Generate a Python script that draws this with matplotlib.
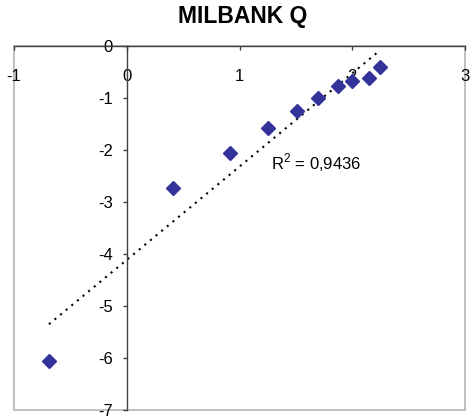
import numpy as np
import matplotlib
matplotlib.use("Agg")
import matplotlib.pyplot as plt
from matplotlib.patches import Rectangle

plt.rcParams['font.family'] = ['Liberation Sans', 'DejaVu Sans']
plt.rcParams['mathtext.fontset'] = 'custom'
plt.rcParams['mathtext.rm'] = 'Liberation Sans'

title = "MILBANK Q"
x_vals = [-0.69, 0.41, 0.92, 1.25, 1.51, 1.70, 1.87, 2.00, 2.15, 2.25]
y_vals = [-6.06, -2.73, -2.06, -1.58, -1.25, -1.00, -0.77, -0.67, -0.62, -0.40]
x_ticks = [-1, 0, 1, 2, 3]
y_ticks = [0, -1, -2, -3, -4, -5, -6, -7]
r2_label = "R$^2$ = 0,9436"

W, H = 470, 419
fig = plt.figure(figsize=(W / 100, H / 100), dpi=100)
left, right, top, bottom = 14, 465, 46, 410
ax = fig.add_axes([left / W, (H - bottom) / H, (right - left) / W, (bottom - top) / H])
ax.set_xlim(-1, 3)
ax.set_ylim(-7, 0)

# frame
ax.add_patch(Rectangle((0, 0), 1, 1, transform=ax.transAxes, fill=False,
                       edgecolor='#b4b4b4', linewidth=1.2, clip_on=False, zorder=0))

# axes crossing at 0
ax.spines['left'].set_position(('data', 0))
ax.spines['bottom'].set_position(('data', 0))
ax.spines['right'].set_visible(False)
ax.spines['top'].set_visible(False)
for s in ('left', 'bottom'):
    ax.spines[s].set_color('#404040')
    ax.spines[s].set_linewidth(1.0)

ax.set_xticks(x_ticks)
ax.set_yticks(y_ticks)
ax.set_xticklabels([str(v) for v in x_ticks])
ax.set_yticklabels([str(v) for v in y_ticks])
ax.tick_params(axis='x', direction='out', length=3, width=1, color='#404040',
               labelsize=12, pad=13.5)
ax.tick_params(axis='y', direction='out', length=3, width=1, color='#404040',
               labelsize=12, pad=7)

# data
ax.plot(x_vals, y_vals, linestyle='none', marker='D', markersize=7,
        color='#333399', zorder=3, clip_on=False)

# linear trendline
coef = np.polyfit(x_vals, y_vals, 1)
xs = np.array([min(x_vals), max(x_vals)])
ax.plot(xs, np.polyval(coef, xs), color='black', linewidth=1.5,
        linestyle=(0, (1, 2.5)), zorder=2)

ax.text(1.28, -2.25, r2_label, fontsize=12, ha='left', va='center')

fig.text(243 / W, 1 - 17 / H, title, fontsize=16.5, fontweight='bold',
         ha='center', va='center')

fig.savefig("out.png", dpi=100)
